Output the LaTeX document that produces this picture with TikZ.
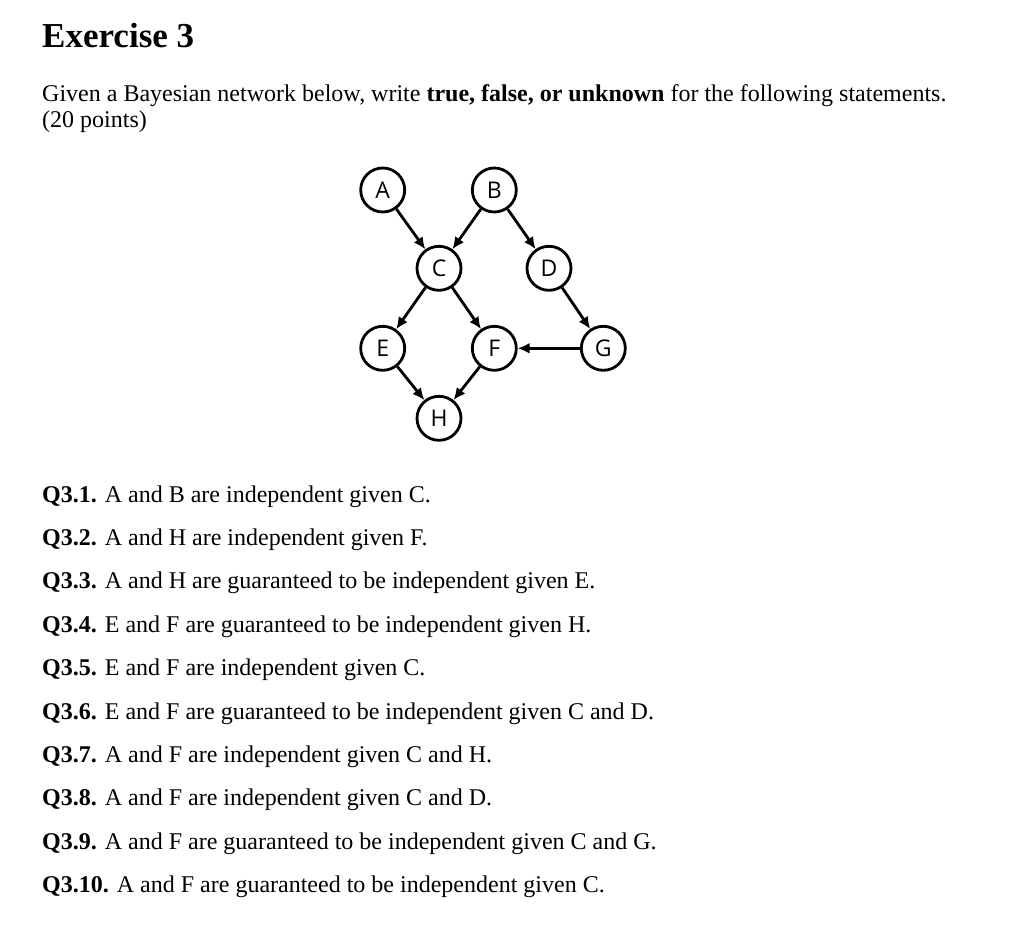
\documentclass[tikz,border=0pt]{standalone}
\usepackage{fontspec}
\setmainfont{Liberation Serif}
\newfontfamily\nodefont{Open Sans}
\usetikzlibrary{arrows.meta}

\begin{document}
\begin{tikzpicture}[x=1pt,y=-1pt]
    \tikzset{vertex/.style={circle, draw, line width=2.8pt, minimum size=44pt, inner sep=0pt, font=\nodefont\fontsize{23}{23}\selectfont}};
    \tikzset{edge/.style={line width=2.8pt, -{Latex[length=12pt,width=11pt]}}};
    \tikzset{txt/.style={anchor=base west, inner sep=0pt, font=\fontsize{24}{27}\selectfont}};
\useasboundingbox (0,0) rectangle (1020,928);
%%
\node (title) at (42,48) [txt, font=\fontsize{35}{35}\selectfont\bfseries] {Exercise 3};
\node (intro) at (42,102) [txt] {Given a Bayesian network below, write \textbf{true, false, or unknown} for the following statements.};
\node (pts) at (42,127.5) [txt] {(20 points)};
%%
\node (A) at (382.7,190) [vertex] {A};
  \node (B) at (494.3,190) [vertex] {B};
  \node (C) at (439,268.3) [vertex] {C};
  \node (D) at (549,268.3) [vertex] {D};
  \node (E) at (382.7,348.3) [vertex] {E};
  \node (F) at (494.3,348.3) [vertex] {F};
  \node (G) at (603.3,348.3) [vertex] {G};
  \node (H) at (439,418.3) [vertex] {H};

  \draw [edge] (A) -- (C);
  \draw [edge] (B) -- (C);
  \draw [edge] (B) -- (D);
  \draw [edge] (C) -- (E);
  \draw [edge] (C) -- (F);
  \draw [edge] (D) -- (G);
  \draw [edge] (G) -- (F);
  \draw [edge] (E) -- (H);
  \draw [edge] (F) -- (H);
%%
\node (q1) at (42,502) [txt] {\textbf{Q3.1.} A and B are independent given C.};
  \node (q2) at (42,545.4) [txt] {\textbf{Q3.2.} A and H are independent given F.};
  \node (q3) at (42,588.8) [txt] {\textbf{Q3.3.} A and H are guaranteed to be independent given E.};
  \node (q4) at (42,632.2) [txt] {\textbf{Q3.4.} E and F are guaranteed to be independent given H.};
  \node (q5) at (42,675.6) [txt] {\textbf{Q3.5.} E and F are independent given C.};
  \node (q6) at (42,719) [txt] {\textbf{Q3.6.} E and F are guaranteed to be independent given C and D.};
  \node (q7) at (42,762.4) [txt] {\textbf{Q3.7.} A and F are independent given C and H.};
  \node (q8) at (42,805.8) [txt] {\textbf{Q3.8.} A and F are independent given C and D.};
  \node (q9) at (42,849.2) [txt] {\textbf{Q3.9.} A and F are guaranteed to be independent given C and G.};
  \node (q10) at (42,892.6) [txt] {\textbf{Q3.10.} A and F are guaranteed to be independent given C.};
\end{tikzpicture}
\end{document}
